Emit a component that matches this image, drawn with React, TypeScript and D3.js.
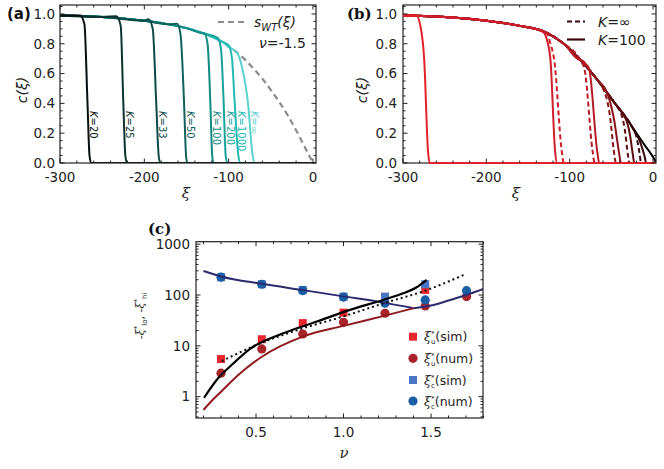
import React from 'react';
import * as d3 from 'd3';

const W = 664, H = 469;

// ---------- Panel (a) data ----------
const swtXi = [-300, -250, -200, -170, -150, -130, -110, -100, -90, -80, -70, -60, -50, -40, -30, -20, -10, 0];
const swtC = [0.99, 0.98, 0.955, 0.93, 0.905, 0.87, 0.82, 0.78, 0.74, 0.69, 0.63, 0.565, 0.49, 0.41, 0.32, 0.22, 0.11, 0.0];
const kLabels = ['20', '25', '33', '50', '100', '200', '1000', '∞'];
const kColors = ['#061010', '#0b3431', '#0e4a46', '#0f625d', '#118a83', '#17a39c', '#22bbb4', '#5ad1ce'];
const kDropXi = [
  [-276, -271, -267.5, -265, -263],
  [-233, -228, -225, -222.5, -220.5],
  [-195, -190, -186, -183, -181],
  [-161, -157, -153, -150.5, -149],
  [-129, -125, -121.8, -119.5, -118],
  [-113, -109, -106, -103.5, -101.5],
  [-100, -96, -93, -88.5, -86],
  [-90, -84, -77, -71.5, -69],
];
const kDropC = [
  [0.99, 0.93, 0.42, 0.05, 0],
  [0.985, 0.92, 0.42, 0.05, 0],
  [0.965, 0.9, 0.42, 0.05, 0],
  [0.935, 0.86, 0.42, 0.05, 0],
  [0.87, 0.8, 0.42, 0.05, 0],
  [0.84, 0.76, 0.42, 0.05, 0],
  [0.79, 0.7, 0.42, 0.05, 0],
  [0.74, 0.64, 0.4, 0.05, 0],
];

// ---------- Panel (b) data ----------
const envXi = [-300, -250, -200, -160, -130, -107, -87, -67, -47, -27, -10, 0, 4];
const envC = [0.99, 0.98, 0.955, 0.92, 0.88, 0.8, 0.69, 0.56, 0.41, 0.26, 0.12, 0.04, 0.0];
const bColors = ['#34080a', '#34080a', '#5c0e11', '#5c0e11', '#8a151b', '#8a151b', '#b51c27', '#b51c27', '#d01e2a', '#d01e2a', '#e4222b'];
const bDashed = [false, true, false, true, false, true, false, true, true, false, false];
const bDropXi = [
  [-20, -16, -13, -9.5, -8.5],
  [-25, -21, -18.5, -15.5, -14.5],
  [-35, -31, -28, -24, -22.5],
  [-41, -37, -34, -30, -28.5],
  [-55, -51, -47, -40.5, -38.5],
  [-60, -56, -52, -46.5, -44.5],
  [-86, -80, -76.5, -67, -64.5],
  [-92, -86, -82, -72.5, -70],
  [-128, -123, -118.5, -109.5, -107],
  [-132, -127, -123, -117.5, -115],
  [-284, -279.5, -274.5, -270, -268],
];
const bDropC = [
  [0.19, 0.15, 0.1, 0.03, 0],
  [0.24, 0.2, 0.14, 0.04, 0],
  [0.32, 0.27, 0.2, 0.05, 0],
  [0.36, 0.31, 0.23, 0.05, 0],
  [0.47, 0.4, 0.3, 0.06, 0],
  [0.5, 0.44, 0.33, 0.06, 0],
  [0.69, 0.66, 0.63, 0.08, 0],
  [0.73, 0.68, 0.625, 0.08, 0],
  [0.875, 0.8, 0.69, 0.08, 0],
  [0.88, 0.82, 0.69, 0.08, 0],
  [0.99, 0.93, 0.69, 0.08, 0],
];

// ---------- Panel (c) data ----------
const nuSim = [0.3, 0.533, 0.767, 1.0, 1.237, 1.467];
const nuNum = [0.3, 0.533, 0.767, 1.0, 1.237, 1.467, 1.703];
const xiUSim = [5.5, 13.5, 28, 45, 75, 126];
const xiUNum = [2.9, 8.7, 17.1, 29, 43.8, 61, 93];
const xiCSim = [224, 163, 126, 93, 93, 163];
const xiCNum = [224, 163, 122, 91, 69, 80, 122];
const hiNuL = [0.2, 0.3, 0.533, 0.767, 1.0, 1.237, 1.4];
const hiValL = [298, 232, 166, 125, 94, 70, 55];
const hiNuR = [1.4, 1.5, 1.6, 1.7, 1.8];
const hiValR = [55, 62, 78, 100, 132];
const loNu = [0.2, 0.25, 0.3, 0.4, 0.533, 0.767, 1.0, 1.237, 1.4];
const loVal = [0.55, 0.85, 1.25, 2.7, 6.1, 15.2, 24.7, 39.3, 55];
const blkNu = [0.203, 0.275, 0.37, 0.466, 0.656, 0.847, 1.037, 1.227, 1.341, 1.418, 1.475];
const blkVal = [0.95, 2.13, 4.5, 8.7, 17.7, 30, 51, 80, 108, 142, 199];
const dotNu = [0.304, 0.533, 0.767, 1.0, 1.237, 1.467, 1.694];
const dotVal = [5.0, 11.5, 22, 38, 70, 122, 255];

const FONT = '"DejaVu Sans", sans-serif';
const SERIF = '"DejaVu Serif", serif';
const FR = '#222';

function range(a: number, b: number, s: number) {
  const out: number[] = [];
  for (let v = a; v <= b + 1e-9; v += s) out.push(+v.toFixed(6));
  return out;
}

type P = [number, number];

function buildCurve(baseX: number[], baseY: number[], dx: number[], dc: number[], end: number): P[] {
  const pts: P[] = [];
  baseX.forEach((x, j) => { if (x < dx[0]) pts.push([x, baseY[j]]); });
  dx.forEach((x, j) => pts.push([x, dc[j]]));
  pts.push([end, 0]);
  return pts;
}

function LinTicks({ xs, ys, x0, x1, y0, y1, xMaj, xMin, yMaj, yMin }: any) {
  const els: any[] = [];
  const L = 4.5, l = 2.5;
  xMaj.forEach((v: number, i: number) => {
    const x = xs(v);
    els.push(<line key={'xM' + i} x1={x} x2={x} y1={y1} y2={y1 - L} />);
    els.push(<line key={'xMt' + i} x1={x} x2={x} y1={y0} y2={y0 + L} />);
  });
  xMin.forEach((v: number, i: number) => {
    const x = xs(v);
    els.push(<line key={'xm' + i} x1={x} x2={x} y1={y1} y2={y1 - l} />);
    els.push(<line key={'xmt' + i} x1={x} x2={x} y1={y0} y2={y0 + l} />);
  });
  yMaj.forEach((v: number, i: number) => {
    const y = ys(v);
    els.push(<line key={'yM' + i} x1={x0} x2={x0 + L} y1={y} y2={y} />);
    els.push(<line key={'yMr' + i} x1={x1} x2={x1 - L} y1={y} y2={y} />);
  });
  yMin.forEach((v: number, i: number) => {
    const y = ys(v);
    els.push(<line key={'ym' + i} x1={x0} x2={x0 + l} y1={y} y2={y} />);
    els.push(<line key={'ymr' + i} x1={x1} x2={x1 - l} y1={y} y2={y} />);
  });
  return <g stroke={FR} strokeWidth={1}>{els}</g>;
}

export default function App() {
  // ---- Panel a scales
  const ax0 = 60, ax1 = 316, ay0 = 5, ay1 = 163;
  const xa = d3.scaleLinear().domain([-300, 3.6]).range([ax0, ax1]);
  const ya = d3.scaleLinear().domain([0, 1.06]).range([ay1, ay0]);
  // ---- Panel b scales
  const bx0 = 403, bx1 = 656;
  const xb = d3.scaleLinear().domain([-300, 3.6]).range([bx0, bx1]);
  const yb = ya;
  // ---- Panel c scales
  const cx0 = 196, cx1 = 483, cy0 = 241.7, cy1 = 418;
  const xc = d3.scaleLinear().domain([0.157, 1.797]).range([cx0, cx1]);
  const yc = d3.scaleLog().domain([0.38, 1120]).range([cy1, cy0]);

  const lineA = d3.line<P>().x(d => xa(d[0])).y(d => ya(d[1])).curve(d3.curveMonotoneX);
  const lineB = d3.line<P>().x(d => xb(d[0])).y(d => yb(d[1])).curve(d3.curveMonotoneX);
  const lineC = d3.line<P>().x(d => xc(d[0])).y(d => yc(d[1])).curve(d3.curveMonotoneX);

  const swtPts: P[] = swtXi.map((x, i) => [x, swtC[i]]);
  const aCurves = kLabels.map((_, i) => buildCurve(swtXi, swtC, kDropXi[i], kDropC[i], 3.6));
  const envPts: P[] = envXi.map((x, i) => [x, envC[i]]);
  const bCurves = bColors.map((_, i) => buildCurve(envXi, envC, bDropXi[i], bDropC[i], 3.6));

  const linXMaj = [-300, -200, -100, 0];
  const linXMin = range(-300, 0, 20).filter(v => v % 100 !== 0);
  const linYMaj = range(0, 1, 0.2);
  const linYMin = range(0, 1.05, 0.05).filter(v => Math.abs(v / 0.2 - Math.round(v / 0.2)) > 1e-6);

  const cXMaj = [0.5, 1.0, 1.5];
  const cXMin = range(0.2, 1.8, 0.1).filter(v => Math.abs(v * 2 - Math.round(v * 2)) > 1e-6);
  const cYMaj = [1, 10, 100, 1000];
  const cYMin: number[] = [];
  [0.1, 1, 10, 100, 1000].forEach(d => { for (let k = 2; k <= 9; k++) { const v = d * k; if (v > 0.38 && v < 1120) cYMin.push(v); } });

  const fmt1 = d3.format('.1f');

  const sq = 8;

  return (
    <svg width={W} height={H} style={{ position: 'absolute', left: 0, top: 0, background: '#fff' }} fontFamily={FONT}>
      <defs>
        <clipPath id="clipA"><rect x={ax0} y={ay0} width={ax1 - ax0} height={ay1 - ay0} /></clipPath>
        <clipPath id="clipB"><rect x={bx0} y={ay0} width={bx1 - bx0} height={ay1 - ay0 + 1} /></clipPath>
        <clipPath id="clipC"><rect x={cx0} y={cy0} width={cx1 - cx0} height={cy1 - cy0} /></clipPath>
      </defs>

      {/* ================= Panel (a) ================= */}
      <g clipPath="url(#clipA)">
        <path d={lineA(swtPts) || ''} fill="none" stroke="#8c8c8c" strokeWidth={2.2} strokeDasharray="6,4" />
        {aCurves.map((pts, i) => i).reverse().map(i => (
          <path key={i} d={lineA(aCurves[i]) || ''} fill="none" stroke={kColors[i]} strokeWidth={2} />
        ))}
      </g>
      {kLabels.map((lab, i) => (
        <text key={i} transform={`translate(${xa(kDropXi[i][2]) + 6.5},111) rotate(90)`} dy="0.35em" fontSize={10} fill={kColors[i]}>
          <tspan fontStyle="italic">K</tspan>={lab}
        </text>
      ))}
      <rect x={ax0} y={ay0} width={ax1 - ax0} height={ay1 - ay0} fill="none" stroke={FR} strokeWidth={1.2} />
      <LinTicks xs={xa} ys={ya} x0={ax0} x1={ax1} y0={ay0} y1={ay1} xMaj={linXMaj} xMin={linXMin} yMaj={linYMaj} yMin={linYMin} />
      {linXMaj.map(v => (
        <text key={v} x={xa(v)} y={182} textAnchor="middle" fontSize={13.5} fill={FR}>{v === 0 ? '0' : '-' + Math.abs(v)}</text>
      ))}
      {linYMaj.map(v => (
        <text key={v} x={55} y={ya(v) + 4.8} textAnchor="end" fontSize={13.5} fill={FR}>{fmt1(v)}</text>
      ))}
      <text x={7} y={19} fontSize={15} fontWeight="bold" fill="#111">(a)</text>
      <text transform="translate(27,90) rotate(-90)" textAnchor="middle" fontSize={14} fontStyle="italic" fill={FR}>c(ξ)</text>
      <text x={186} y={198} textAnchor="middle" fontSize={15} fontStyle="italic" fontFamily={SERIF} fill={FR}>ξ</text>
      <line x1={218} x2={248} y1={22} y2={22} stroke="#8c8c8c" strokeWidth={2.2} strokeDasharray="6,4" />
      <text x={254} y={27} fontSize={14} fill={FR}>
        <tspan fontStyle="italic">s</tspan><tspan fontStyle="italic" fontSize={10} dy={4}>WT</tspan><tspan dy={-4} fontStyle="italic">(ξ)</tspan>
      </text>
      <text x={259} y={48} fontSize={14} fill={FR}><tspan fontStyle="italic">ν</tspan>=-1.5</text>

      {/* ================= Panel (b) ================= */}
      <rect x={bx0} y={ay0} width={bx1 - bx0} height={ay1 - ay0} fill="none" stroke={FR} strokeWidth={1.2} />
      <g clipPath="url(#clipB)">
        <path d={lineB(envPts) || ''} fill="none" stroke="#000" strokeWidth={2} />
        {bCurves.map((pts, i) => (
          <path key={i} d={lineB(pts) || ''} fill="none" stroke={bColors[i]} strokeWidth={2} strokeDasharray={bDashed[i] ? '5,3' : undefined} />
        ))}
      </g>
      <LinTicks xs={xb} ys={yb} x0={bx0} x1={bx1} y0={ay0} y1={ay1} xMaj={linXMaj} xMin={linXMin} yMaj={linYMaj} yMin={linYMin} />
      {linXMaj.map(v => (
        <text key={v} x={xb(v)} y={182} textAnchor="middle" fontSize={13.5} fill={FR}>{v === 0 ? '0' : '-' + Math.abs(v)}</text>
      ))}
      {linYMaj.map(v => (
        <text key={v} x={397} y={yb(v) + 4.8} textAnchor="end" fontSize={13.5} fill={FR}>{fmt1(v)}</text>
      ))}
      <text x={347} y={19} fontSize={15} fontWeight="bold" fontFamily={SERIF} fill="#111">(b)</text>
      <text transform="translate(367,90) rotate(-90)" textAnchor="middle" fontSize={14} fontStyle="italic" fill={FR}>c(ξ)</text>
      <text x={516} y={198} textAnchor="middle" fontSize={15} fontStyle="italic" fontFamily={SERIF} fill={FR}>ξ</text>
      <line x1={567} x2={585} y1={21.5} y2={21.5} stroke="#3a0a0a" strokeWidth={2.2} strokeDasharray="5,3" />
      <text x={598} y={26.5} fontSize={14} fill={FR}><tspan fontStyle="italic">K</tspan>=∞</text>
      <line x1={567} x2={585} y1={39.5} y2={39.5} stroke="#3a0a0a" strokeWidth={2.2} />
      <text x={598} y={44.5} fontSize={14} fill={FR}><tspan fontStyle="italic">K</tspan>=100</text>

      {/* ================= Panel (c) ================= */}
      <g clipPath="url(#clipC)">
        {nuSim.map((v, i) => (
          <rect key={'us' + i} x={xc(v) - sq / 2} y={yc(xiUSim[i]) - sq / 2} width={sq} height={sq} fill="#e8262b" />
        ))}
        {nuNum.map((v, i) => (
          <circle key={'un' + i} cx={xc(v)} cy={yc(xiUNum[i])} r={4.6} fill="#a8232a" />
        ))}
        {nuSim.map((v, i) => (
          <rect key={'cs' + i} x={xc(v) - sq / 2} y={yc(xiCSim[i]) - sq / 2} width={sq} height={sq} fill="#4a74c4" />
        ))}
        {nuNum.map((v, i) => (
          <circle key={'cn' + i} cx={xc(v)} cy={yc(xiCNum[i])} r={4.6} fill="#1a5fa6" />
        ))}
        <path d={lineC(hiNuL.map((v, i) => [v, hiValL[i]] as P)) || ''} fill="none" stroke="#2c2a6e" strokeWidth={2} />
        <path d={lineC(hiNuR.map((v, i) => [v, hiValR[i]] as P)) || ''} fill="none" stroke="#2c2a6e" strokeWidth={2} />
        <path d={lineC(loNu.map((v, i) => [v, loVal[i]] as P)) || ''} fill="none" stroke="#8e1a1e" strokeWidth={2} />
        <path d={lineC(dotNu.map((v, i) => [v, dotVal[i]] as P)) || ''} fill="none" stroke="#111" strokeWidth={2} strokeDasharray="2,3" />
        <path d={lineC(blkNu.map((v, i) => [v, blkVal[i]] as P)) || ''} fill="none" stroke="#000" strokeWidth={2.2} />
      </g>
      <rect x={cx0} y={cy0} width={cx1 - cx0} height={cy1 - cy0} fill="none" stroke={FR} strokeWidth={1.2} />
      <LinTicks xs={xc} ys={yc} x0={cx0} x1={cx1} y0={cy0} y1={cy1} xMaj={cXMaj} xMin={cXMin} yMaj={cYMaj} yMin={cYMin} />
      {cXMaj.map(v => (
        <text key={v} x={xc(v)} y={437} textAnchor="middle" fontSize={13.5} fill={FR}>{fmt1(v)}</text>
      ))}
      {cYMaj.map(v => (
        <text key={v} x={190} y={yc(v) + 4.8} textAnchor="end" fontSize={13.5} fill={FR}>{String(v)}</text>
      ))}
      <text x={148} y={234} fontSize={15} fontWeight="bold" fontFamily={SERIF} fill="#111">(c)</text>
      <text x={344} y={458} textAnchor="middle" fontSize={15} fontStyle="italic" fontFamily={SERIF} fill={FR}>ν</text>
      <text transform="translate(144,316) rotate(-90)" textAnchor="middle" fontSize={11} fill={FR}>
        -<tspan fontStyle="italic" fontFamily={SERIF}>ξ</tspan><tspan fontSize={7} dy={-5}>*</tspan><tspan fontSize={7} dy={8}>lo</tspan><tspan dy={-3}>, -</tspan><tspan fontStyle="italic" fontFamily={SERIF}>ξ</tspan><tspan fontSize={7} dy={-5}>*</tspan><tspan fontSize={7} dy={8}>hi</tspan>
      </text>
      {/* legend */}
      {[
        { t: 'u', l: 'sim', c: '#e8262b', s: true, y: 336.7 },
        { t: 'u', l: 'num', c: '#a8232a', s: false, y: 358.3 },
        { t: 'c', l: 'sim', c: '#4a74c4', s: true, y: 380 },
        { t: 'c', l: 'num', c: '#1a5fa6', s: false, y: 401 },
      ].map((e, i) => (
        <g key={i}>
          {e.s ? <rect x={413 - sq / 2} y={e.y - sq / 2} width={sq} height={sq} fill={e.c} /> : <circle cx={413} cy={e.y} r={4.6} fill={e.c} />}
          <text x={424} y={e.y + 4.5} fontSize={12.5} fill={FR}>
            <tspan fontStyle="italic" fontFamily={SERIF}>ξ</tspan><tspan fontSize={7} dy={-5}>*</tspan><tspan fontSize={7} dx={-3.5} dy={8}>{e.t}</tspan><tspan dy={-3}>({e.l})</tspan>
          </text>
        </g>
      ))}
    </svg>
  );
}
